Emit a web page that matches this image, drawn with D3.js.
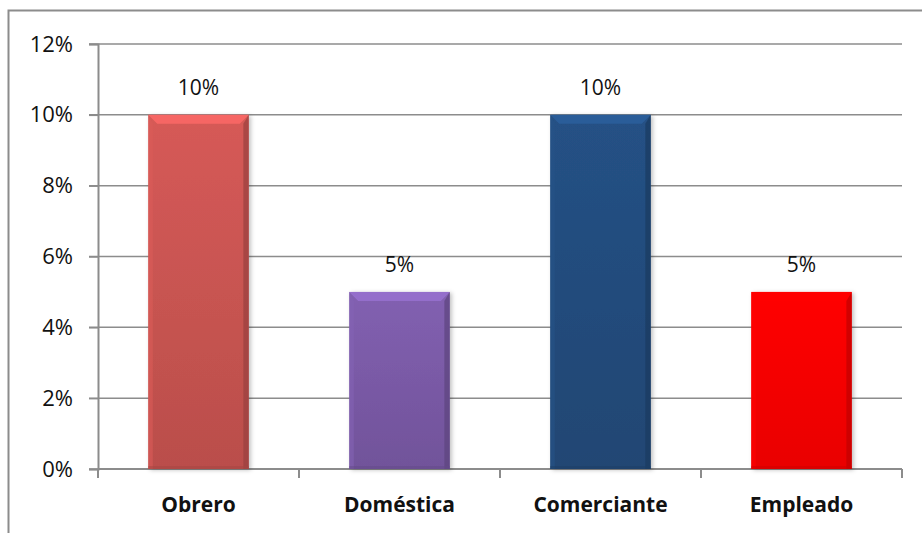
<!DOCTYPE html>
<html><head><meta charset="utf-8">
<script src="https://cdn.jsdelivr.net/npm/d3@7"></script>
<style>body{margin:0;background:#fff}svg{display:block}</style>
</head><body><svg id="c" width="922" height="533"></svg>
<script>
const categories = ["Obrero", "Doméstica", "Comerciante", "Empleado"];
const values = [0.10, 0.05, 0.10, 0.05];
const colors = ["#CB5552", "#7B5BA8", "#234D7E", "#FF0000"];
const tickValues = [0, 0.02, 0.04, 0.06, 0.08, 0.10, 0.12];

const svg = d3.select("#c");
const font = "'Open Sans', sans-serif";
// outer frame
svg.append("rect").attr("x", 8.5).attr("y", 10.5).attr("width", 930).attr("height", 540)
  .attr("fill", "#fff").attr("stroke", "#8c8c8c").attr("stroke-width", 2);

const x = d3.scaleBand().domain(categories).range([98, 902]).paddingInner(0.5).paddingOuter(0.25);
const y = d3.scaleLinear().domain([0, 0.12]).range([469, 44]);

// gridlines
svg.append("g").selectAll("line").data(tickValues).join("line")
  .attr("x1", 89).attr("x2", 902).attr("y1", d => y(d)).attr("y2", d => y(d))
  .attr("stroke", "#8c8c8c").attr("stroke-width", 1.5);

// y axis
const yAxis = svg.append("g").attr("transform", "translate(98,0)")
  .call(d3.axisLeft(y).tickValues(tickValues).tickFormat(d3.format(".0%")).tickSize(9).tickPadding(16));
yAxis.select(".domain").attr("stroke", "#8c8c8c").attr("stroke-width", 2);
yAxis.selectAll(".tick line").attr("stroke", "#8c8c8c").attr("stroke-width", 1.5);
yAxis.selectAll("text").attr("font-family", font).attr("font-size", 22).attr("fill", "#111");

// x axis ticks (band boundaries)
const bounds = d3.range(categories.length + 1).map(i => 98 + i * (902 - 98) / categories.length);
svg.append("g").selectAll("line").data(bounds).join("line")
  .attr("x1", d => d).attr("x2", d => d).attr("y1", y(0)).attr("y2", y(0) + 9)
  .attr("stroke", "#8c8c8c").attr("stroke-width", 2);
svg.append("line").attr("x1", 98).attr("x2", 902).attr("y1", y(0)).attr("y2", y(0))
  .attr("stroke", "#8c8c8c").attr("stroke-width", 2);

// gradients
const defs = svg.append("defs");
colors.forEach((c, i) => {
  const g = defs.append("linearGradient").attr("id", "g" + i).attr("x1", 0).attr("y1", 0).attr("x2", 0).attr("y2", 1);
  g.append("stop").attr("offset", "0%").attr("stop-color", d3.color(c).brighter(0.15));
  g.append("stop").attr("offset", "100%").attr("stop-color", d3.color(c).darker(0.25));
});
const sh = defs.append("filter").attr("id", "sh").attr("x", "-20%").attr("y", "-20%").attr("width", "140%").attr("height", "140%");
sh.append("feDropShadow").attr("dx", 2).attr("dy", 1).attr("stdDeviation", 2).attr("flood-opacity", 0.25);

const data = categories.map((c, i) => ({c, v: values[i], col: colors[i], i}));
const bars = svg.append("g").selectAll("g").data(data).join("g");
bars.append("rect")
  .attr("x", d => x(d.c)).attr("y", d => y(d.v))
  .attr("width", x.bandwidth()).attr("height", d => y(0) - y(d.v))
  .attr("fill", d => "url(#g" + d.i + ")").attr("filter", "url(#sh)");
const bv = 9;
// top bevel
bars.append("path").attr("d", d => {
  const x0 = x(d.c), x1 = x0 + x.bandwidth(), t = y(d.v);
  return `M${x0},${t}L${x1},${t}L${x1 - bv},${t + bv}L${x0 + bv},${t + bv}Z`;
}).attr("fill", d => d3.color(d.col).brighter(0.6)).attr("opacity", 0.85);
// side bevels
bars.append("path").attr("d", d => {
  const x0 = x(d.c), t = y(d.v), b = y(0);
  return `M${x0},${t}L${x0 + bv * 0.5},${t + bv}L${x0 + bv * 0.5},${b}L${x0},${b}Z`;
}).attr("fill", d => d3.color(d.col).brighter(0.2)).attr("opacity", 0.6);
bars.append("path").attr("d", d => {
  const x1 = x(d.c) + x.bandwidth(), t = y(d.v), b = y(0);
  return `M${x1},${t}L${x1 - bv * 0.6},${t + bv}L${x1 - bv * 0.6},${b}L${x1},${b}Z`;
}).attr("fill", d => d3.color(d.col).darker(0.8)).attr("opacity", 0.7);
bars.append("rect")
  .attr("x", d => x(d.c)).attr("y", d => y(0) - 3)
  .attr("width", x.bandwidth()).attr("height", 3)
  .attr("fill", d => d3.color(d.col).darker(0.6)).attr("opacity", 0.5);

// value labels
bars.append("text")
  .attr("x", d => x(d.c) + x.bandwidth() / 2).attr("y", d => y(d.v) - 20)
  .attr("text-anchor", "middle").attr("font-family", font).attr("font-size", 21).attr("fill", "#111")
  .text(d => d3.format(".0%")(d.v));

// category labels
svg.append("g").selectAll("text").data(categories).join("text")
  .attr("x", d => x(d) + x.bandwidth() / 2).attr("y", 512)
  .attr("text-anchor", "middle").attr("font-family", font).attr("font-weight", "bold")
  .attr("font-size", 21).attr("fill", "#111").text(d => d);
</script></body></html>
